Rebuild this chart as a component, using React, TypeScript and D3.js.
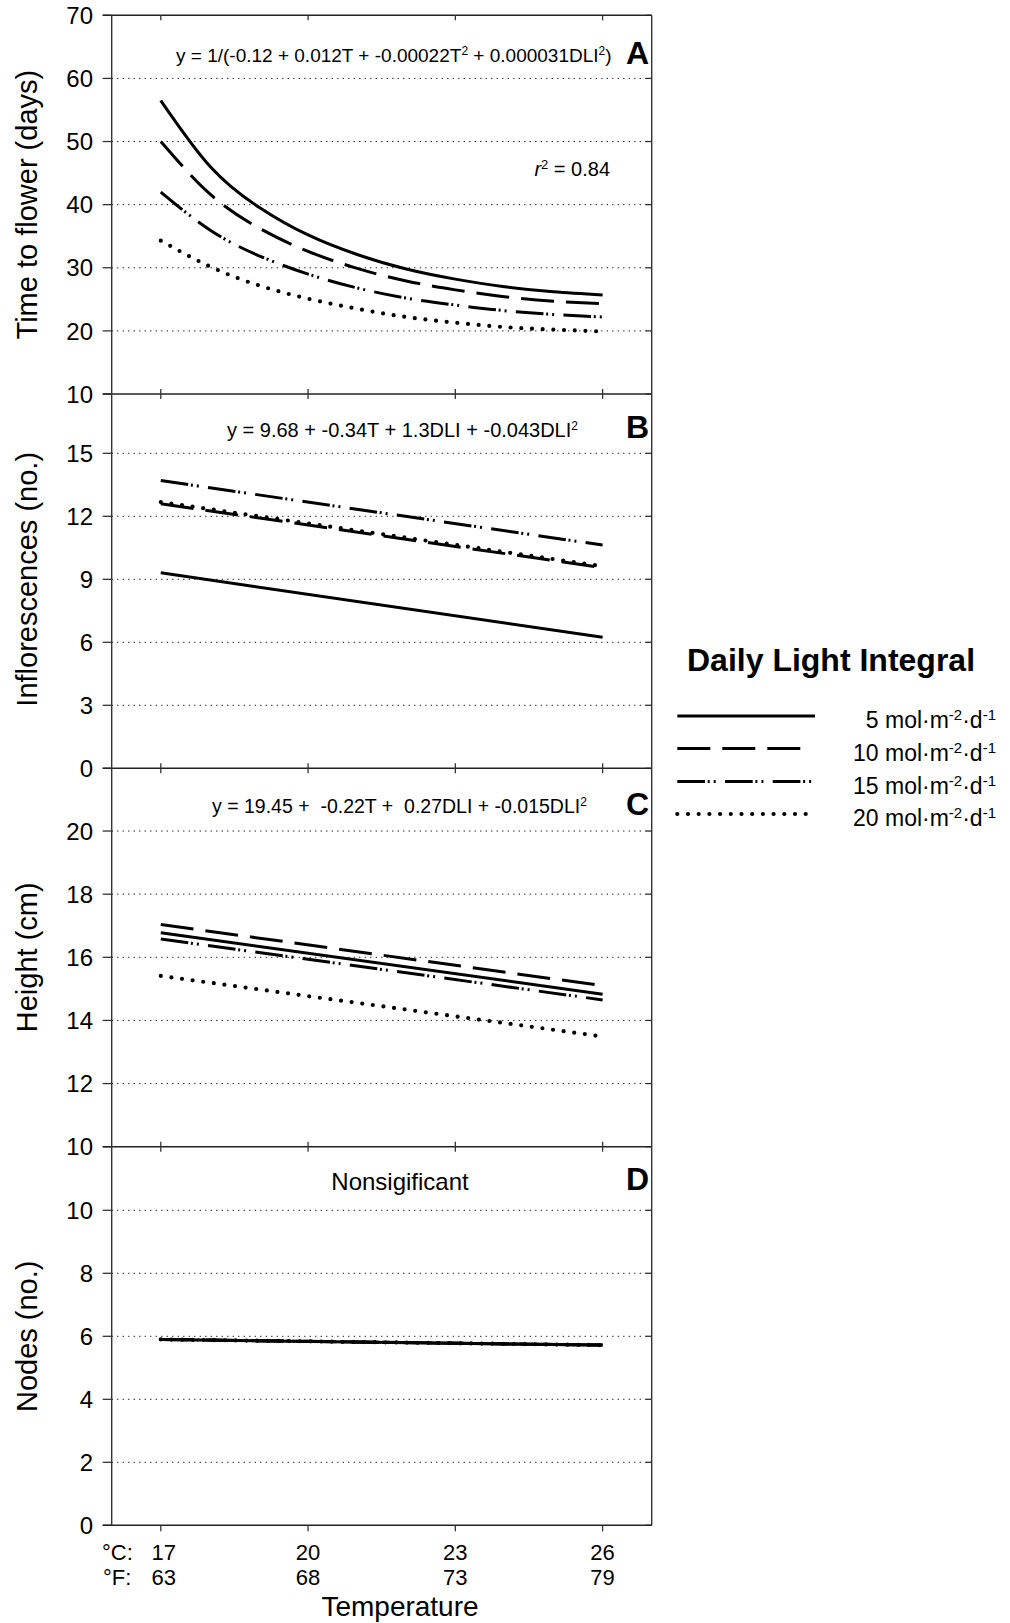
import React from 'react';
import * as d3 from 'd3';

// ---------- DATA ----------
const tempC = [17, 18, 19, 20, 21, 22, 23, 24, 25, 26];
const tempEnds = [17, 26];
const xTicksC = [17, 20, 23, 26];
const xTicksF = ['63', '68', '73', '79'];

const dliLabels = ['5', '10', '15', '20'];

// Panel A: time to flower (days)
const flowerDLI5 = [56.5, 46.1, 39.6, 35.2, 32.1, 29.8, 28.2, 27.0, 26.2, 25.7];
const flowerDLI10 = [50.0, 41.7, 36.3, 32.6, 29.9, 27.9, 26.5, 25.4, 24.7, 24.3];
const flowerDLI15 = [42.0, 36.0, 31.9, 29.0, 26.8, 25.2, 24.1, 23.2, 22.6, 22.2];
const flowerDLI20 = [34.3, 30.2, 27.2, 25.1, 23.5, 22.2, 21.3, 20.6, 20.2, 19.9];
const flowerTicks = [10, 20, 30, 40, 50, 60, 70];

// Panel B: inflorescences (no.)
const inflDLI5 = [9.31, 6.24];
const inflDLI10 = [12.60, 9.55];
const inflDLI15 = [13.70, 10.63];
const inflDLI20 = [12.68, 9.62];
const inflTicks = [0, 3, 6, 9, 12, 15];

// Panel C: height (cm)
const heightDLI5 = [16.78, 14.83];
const heightDLI10 = [17.04, 15.10];
const heightDLI15 = [16.58, 14.65];
const heightDLI20 = [15.41, 13.49];
const heightTicks = [10, 12, 14, 16, 18, 20];

// Panel D: nodes (no.)
const nodesDLI5 = [5.90, 5.72];
const nodesDLI10 = [5.90, 5.72];
const nodesDLI15 = [5.90, 5.72];
const nodesDLI20 = [5.90, 5.72];
const nodesTicks = [0, 2, 4, 6, 8, 10];

// ---------- STYLE / LAYOUT ----------
const FONT = '"Liberation Sans", Arial, Helvetica, sans-serif';
const W = 1010;
const H = 1623;
const X0 = 111.7;
const X1 = 651.7;

const lineStyles = [
  { dash: 'none', width: 3, cap: 'butt' },
  { dash: '33 12', width: 3, cap: 'butt' },
  { dash: '27.7 2.7 2 4 2 9.3', width: 3, cap: 'butt' },
  { dash: '0 10.7', width: 4.2, cap: 'round' },
];

type Panel = {
  letter: string;
  title: string;
  domain: [number, number];
  yBottom: number;
  yTop: number;
  ticks: number[];
  grid: number[];
  xs: number[];
  series: number[][];
  smooth: boolean;
  letterY: number;
};

const panels: Panel[] = [
  {
    letter: 'A', title: 'Time to flower (days)', domain: [10, 70], yBottom: 394, yTop: 15.3,
    ticks: flowerTicks, grid: flowerTicks.filter((t) => t > 10 && t < 70), xs: tempC,
    series: [flowerDLI5, flowerDLI10, flowerDLI15, flowerDLI20], smooth: true, letterY: 64,
  },
  {
    letter: 'B', title: 'Inflorescences (no.)', domain: [0, 18], yBottom: 768.3, yTop: 390.3,
    ticks: inflTicks, grid: inflTicks.filter((t) => t > 0), xs: tempEnds,
    series: [inflDLI5, inflDLI10, inflDLI15, inflDLI20], smooth: false, letterY: 438,
  },
  {
    letter: 'C', title: 'Height (cm)', domain: [10, 22], yBottom: 1146.7, yTop: 767.9,
    ticks: heightTicks, grid: heightTicks.filter((t) => t > 10), xs: tempEnds,
    series: [heightDLI5, heightDLI10, heightDLI15, heightDLI20], smooth: false, letterY: 815,
  },
  {
    letter: 'D', title: 'Nodes (no.)', domain: [0, 12], yBottom: 1525.3, yTop: 1147.3,
    ticks: nodesTicks, grid: nodesTicks.filter((t) => t > 0), xs: tempEnds,
    series: [nodesDLI5, nodesDLI10, nodesDLI15, nodesDLI20], smooth: false, letterY: 1190,
  },
];

const x = d3.scaleLinear().domain([16, 27]).range([X0, X1]);

function PanelView({ p, idx }: { p: Panel; idx: number }) {
  const y = d3.scaleLinear().domain(p.domain).range([p.yBottom, p.yTop]);
  const line = d3
    .line<number>()
    .x((_, i) => x(p.xs[i]))
    .y((d) => y(d))
    .curve(p.smooth ? d3.curveNatural : d3.curveLinear);
  const cy = (p.yBottom + p.yTop) / 2;
  const isLast = idx === panels.length - 1;
  return (
    <g>
      {p.grid.map((g) => (
        <line key={'g' + g} x1={X0} x2={X1 + 2} y1={y(g)} y2={y(g)} stroke="#000" strokeWidth={1} strokeDasharray="1.2 4.3" />
      ))}
      {p.ticks.map((t) => (
        <g key={'t' + t}>
          <line x1={X0 - 9} x2={X0} y1={y(t)} y2={y(t)} stroke="#333" strokeWidth={1.3} />
          <line x1={X1 - 6} x2={X1} y1={y(t)} y2={y(t)} stroke="#333" strokeWidth={1.3} />
          <text x={93} y={y(t)} dy="0.36em" textAnchor="end" fontSize={24} fontFamily={FONT} fill="#000">
            {t}
          </text>
        </g>
      ))}
      <line x1={X0 - 9} x2={X1} y1={p.yBottom} y2={p.yBottom} stroke="#222" strokeWidth={1.6} />
      {xTicksC.map((t) => (
        <line key={'xb' + t} x1={x(t)} x2={x(t)} y1={isLast ? p.yBottom : p.yBottom - 5} y2={p.yBottom + (isLast ? 6 : 5)} stroke="#333" strokeWidth={1.3} />
      ))}
      {idx === 0 && (
        <>
          <line x1={X0 - 9} x2={X1} y1={p.yTop} y2={p.yTop} stroke="#222" strokeWidth={1.4} />
          {xTicksC.map((t) => (
            <line key={'xt' + t} x1={x(t)} x2={x(t)} y1={p.yTop} y2={p.yTop + 5} stroke="#333" strokeWidth={1.3} />
          ))}
        </>
      )}
      {p.series.map((s, i) => (
        <path
          key={'s' + i}
          d={line(s) || ''}
          fill="none"
          stroke="#000"
          strokeWidth={lineStyles[i].width}
          strokeDasharray={lineStyles[i].dash}
          strokeLinecap={lineStyles[i].cap as any}
        />
      ))}
      <text
        x={37}
        y={cy}
        transform={`rotate(-90, 37, ${cy})`}
        textAnchor="middle"
        fontSize={29}
        fontFamily={FONT}
        fill="#000"
      >
        {p.title}
      </text>
      <text x={649} y={p.letterY} fontSize={32} fontWeight="bold" textAnchor="end" fill="#000">
        {p.letter}
      </text>
    </g>
  );
}

export default function App() {
  const legendY = [716, 748.5, 781.5, 814];
  const legendX2 = [815, 802, 813, 806];
  return (
    <svg
      width={W}
      height={H}
      viewBox={`0 0 ${W} ${H}`}
      style={{ position: 'absolute', left: 0, top: 0, display: 'block', background: '#fff' }}
      fontFamily={FONT}
    >
      <rect x={0} y={0} width={W} height={H} fill="#fff" />
      {panels.map((p, i) => (
        <PanelView key={p.letter} p={p} idx={i} />
      ))}
      <line x1={X0} x2={X0} y1={15.3} y2={1525.3} stroke="#333" strokeWidth={1.4} />
      <line x1={X1} x2={X1} y1={15.3} y2={1525.3} stroke="#333" strokeWidth={1.4} />

      {/* panel annotations */}
      <text x={176} y={62} fontSize={19} fill="#000" style={{ whiteSpace: 'pre' }}>
        <tspan>y = 1/(-0.12 + 0.012T + -0.00022T</tspan>
        <tspan dy={-7} fontSize={12}>2</tspan>
        <tspan dy={7}> + 0.000031DLI</tspan>
        <tspan dy={-7} fontSize={12}>2</tspan>
        <tspan dy={7}>)</tspan>
      </text>
      <text x={610} y={176} fontSize={20} textAnchor="end" fill="#000">
        <tspan fontStyle="italic">r</tspan>
        <tspan dy={-7} fontSize={13}>2</tspan>
        <tspan dy={7}> = 0.84</tspan>
      </text>
      <text x={227} y={437} fontSize={20} fill="#000" style={{ whiteSpace: 'pre' }}>
        <tspan>y = 9.68 + -0.34T + 1.3DLI + -0.043DLI</tspan>
        <tspan dy={-7} fontSize={12}>2</tspan>
      </text>
      <text x={212} y={813} fontSize={19.5} fill="#000" style={{ whiteSpace: 'pre' }}>
        <tspan>{'y = 19.45 +  -0.22T +  0.27DLI + -0.015DLI'}</tspan>
        <tspan dy={-7} fontSize={12}>2</tspan>
      </text>
      <text x={400} y={1190} fontSize={24} textAnchor="middle" fill="#000">
        Nonsigificant
      </text>

      {/* x axis labels */}
      <text x={102} y={1560} fontSize={22} fill="#000">°C:</text>
      <text x={103} y={1585} fontSize={22} fill="#000">°F:</text>
      {xTicksC.map((t, i) => (
        <g key={'xl' + t}>
          <text x={x(t) + (i === 0 ? 3 : 0)} y={1560} fontSize={22} textAnchor="middle" fill="#000">{t}</text>
          <text x={x(t) + (i === 0 ? 3 : 0)} y={1585} fontSize={22} textAnchor="middle" fill="#000">{xTicksF[i]}</text>
        </g>
      ))}
      <text x={400} y={1616} fontSize={28} textAnchor="middle" fill="#000">Temperature</text>

      {/* legend */}
      <text x={687} y={671} fontSize={32} fontWeight="bold" fill="#000">Daily Light Integral</text>
      {dliLabels.map((lab, i) => (
        <g key={'lg' + lab}>
          <line
            x1={677.3}
            x2={legendX2[i]}
            y1={legendY[i]}
            y2={legendY[i]}
            stroke="#000"
            strokeWidth={lineStyles[i].width}
            strokeDasharray={lineStyles[i].dash}
            strokeLinecap={lineStyles[i].cap as any}
          />
          <text x={996} y={legendY[i] + 12} fontSize={23} textAnchor="end" fill="#000">
            <tspan>{lab} mol·m</tspan>
            <tspan dy={-8} fontSize={15}>-2</tspan>
            <tspan dy={8}>·d</tspan>
            <tspan dy={-8} fontSize={15}>-1</tspan>
          </text>
        </g>
      ))}
    </svg>
  );
}
